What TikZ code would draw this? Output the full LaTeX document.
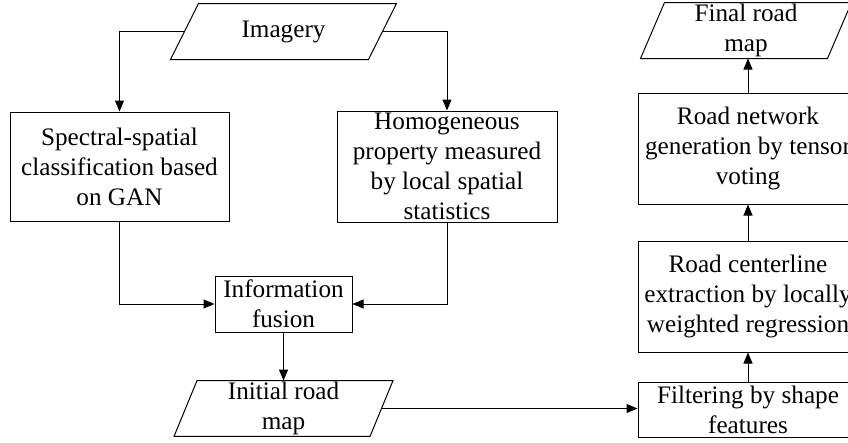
\documentclass[tikz,border=0pt]{standalone}
\usepackage{fontspec}
\setmainfont{Liberation Serif}
\usetikzlibrary{arrows.meta}
\begin{document}
\begin{tikzpicture}[x=1pt,y=-1pt,
  line width=1pt,
  every node/.style={font=\fontsize{25.2}{30}\selectfont, align=center, inner sep=1pt},
  box/.style={draw, minimum width=#1},
  box/.default=220pt,
  para/.style={draw=none},
  conn/.style={-{Triangle[length=11pt,width=9pt]}}]
\useasboundingbox (0,0) rectangle (848,442);
\clip (0,0) rectangle (848,442);
% nodes
\node[para, minimum width=197pt, minimum height=55pt] (img) at (283.5,31.5) {Imagery};
\node[box=219pt, minimum height=109pt] (spec) at (119.5,166.5) {Spectral-spatial\\classification based\\on GAN};
\node[box, minimum height=111pt] (homo) at (447,166.5) {Homogeneous\\property measured\\by local spatial\\statistics};
\node[box=137pt, minimum height=56pt] (fus) at (283.5,304) {Information\\fusion};
\node[para, minimum width=195pt, minimum height=49pt] (init) at (283.5,408.5) {Initial road\\map};
\node[box, minimum height=55pt] (filt) at (748,409.5) {Filtering by shape\\features};
\node[box, minimum height=111pt] (rc) at (748,296.5) {Road centerline\\extraction by locally\\weighted regression};
\node[box, minimum height=111pt] (rn) at (748,148.5) {Road network\\generation by tensor\\voting};
\node[para, minimum width=186pt, minimum height=55pt] (fin) at (746,30.5) {Final road\\map};
% parallelogram outlines
\draw ([xshift=14pt]img.north west) -- ([xshift=14pt]img.north east) -- ([xshift=-14pt]img.south east) -- ([xshift=-14pt]img.south west) -- cycle;
\draw ([xshift=11.5pt]init.north west) -- ([xshift=11.5pt]init.north east) -- ([xshift=-11.5pt]init.south east) -- ([xshift=-11.5pt]init.south west) -- cycle;
\draw ([xshift=12pt]fin.north west) -- ([xshift=12pt]fin.north east) -- ([xshift=-12pt]fin.south east) -- ([xshift=-12pt]fin.south west) -- cycle;
% connectors
\draw[conn] (img.west) -| (spec.north);
\draw[conn] (img.east) -| (homo.north);
\draw[conn] (spec.south) |- (fus.west);
\draw[conn] (homo.south) |- (fus.east);
\draw[conn] (fus.south) -- (init.north);
\draw[conn] (init.east) -- (init.east -| filt.west);
\draw[conn] (filt.north) -- (rc.south);
\draw[conn] (rc.north) -- (rn.south);
\draw[conn] (rn.north) -- (rn.north |- fin.south);
\end{tikzpicture}
\end{document}
